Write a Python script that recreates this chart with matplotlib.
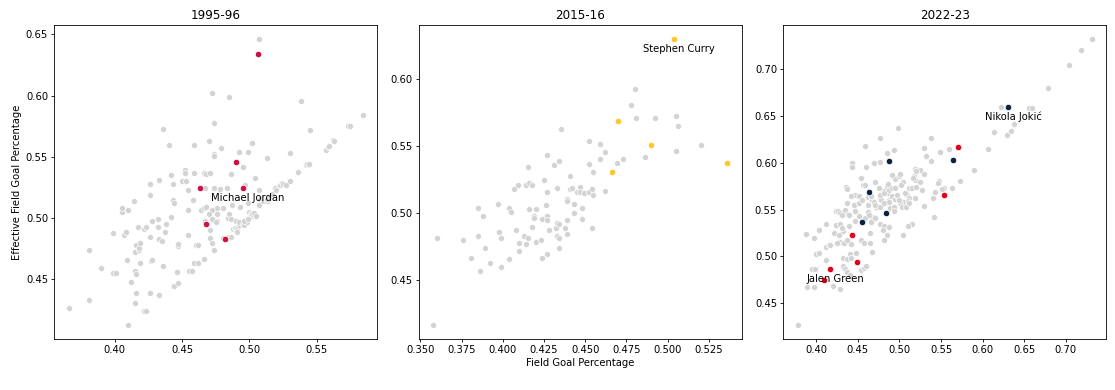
import numpy as np
import matplotlib
matplotlib.use("Agg")
import matplotlib.pyplot as plt

# ---------------- data ----------------
seasons = ["1995-96", "2015-16", "2022-23"]

gray_9596 = [(0.366,0.427),(0.381,0.474),(0.381,0.433),(0.390,0.459),(0.399,0.488),(0.399,0.455),(0.401,0.455),(0.405,0.505),(0.405,0.508),(0.407,0.486),(0.408,0.489),(0.410,0.507),(0.410,0.413),(0.409,0.466),(0.412,0.448),(0.414,0.514),(0.415,0.472),(0.415,0.457),(0.416,0.478),(0.416,0.454),(0.416,0.439),(0.415,0.431),(0.417,0.493),(0.418,0.474),(0.418,0.476),(0.419,0.463),(0.419,0.480),(0.422,0.491),(0.423,0.493),(0.422,0.424),(0.423,0.424),(0.426,0.528),(0.426,0.519),(0.426,0.485),(0.426,0.439),(0.427,0.465),(0.428,0.466),(0.428,0.498),(0.432,0.499),(0.432,0.493),(0.433,0.437),(0.433,0.531),(0.433,0.483),(0.435,0.481),(0.436,0.461),(0.436,0.573),(0.437,0.489),(0.438,0.495),(0.440,0.560),(0.442,0.535),(0.442,0.501),(0.443,0.445),(0.444,0.445),(0.443,0.528),(0.443,0.515),(0.444,0.512),(0.446,0.456),(0.447,0.477),(0.447,0.479),(0.447,0.447),(0.450,0.530),(0.452,0.539),(0.452,0.537),(0.453,0.530),(0.454,0.523),(0.454,0.507),(0.454,0.486),(0.455,0.457),(0.457,0.457),(0.458,0.515),(0.459,0.560),(0.459,0.463),(0.459,0.537),(0.460,0.478),(0.462,0.463),(0.462,0.478),(0.464,0.507),(0.466,0.508),(0.466,0.467),(0.466,0.537),(0.467,0.525),(0.468,0.536),(0.468,0.509),(0.470,0.563),(0.471,0.537),(0.471,0.490),(0.471,0.484),(0.472,0.480),(0.472,0.602),(0.474,0.552),(0.474,0.551),(0.474,0.525),(0.474,0.474),(0.474,0.578),(0.476,0.498),(0.476,0.508),(0.476,0.503),(0.478,0.524),(0.479,0.557),(0.480,0.508),(0.480,0.484),(0.483,0.525),(0.484,0.500),(0.484,0.485),(0.485,0.503),(0.485,0.599),(0.486,0.536),(0.486,0.499),(0.487,0.511),(0.486,0.485),(0.488,0.491),(0.489,0.492),(0.490,0.490),(0.491,0.491),(0.492,0.494),(0.491,0.489),(0.490,0.498),(0.492,0.497),(0.492,0.554),(0.493,0.509),(0.495,0.495),(0.495,0.542),(0.496,0.494),(0.497,0.527),(0.498,0.497),(0.499,0.554),(0.499,0.512),(0.500,0.505),(0.501,0.504),(0.501,0.502),(0.502,0.503),(0.503,0.504),(0.502,0.561),(0.504,0.533),(0.505,0.502),(0.507,0.646),(0.507,0.523),(0.507,0.511),(0.508,0.516),(0.510,0.514),(0.513,0.549),(0.513,0.514),(0.513,0.516),(0.515,0.518),(0.517,0.520),(0.519,0.524),(0.519,0.525),(0.520,0.523),(0.523,0.527),(0.524,0.529),(0.525,0.528),(0.527,0.527),(0.530,0.553),(0.530,0.530),(0.536,0.538),(0.538,0.596),(0.542,0.543),(0.543,0.544),(0.544,0.544),(0.545,0.572),(0.557,0.556),(0.558,0.558),(0.559,0.559),(0.562,0.564),(0.563,0.563),(0.573,0.575),(0.575,0.575),(0.584,0.584),(0.472,0.507),(0.470,0.503),(0.467,0.498),(0.472,0.499),(0.475,0.497),(0.496,0.498),(0.499,0.499)]
team_9596 = [(0.506,0.634),(0.490,0.546),(0.463,0.525),(0.495,0.525),(0.468,0.495),(0.482,0.483)]

gray_1516 = [(0.358,0.417),(0.360,0.482),(0.376,0.480),(0.381,0.467),(0.385,0.504),(0.385,0.483),(0.386,0.457),(0.388,0.498),(0.389,0.474),(0.392,0.463),(0.397,0.507),(0.398,0.486),(0.399,0.482),(0.399,0.460),(0.404,0.504),(0.405,0.501),(0.404,0.466),(0.407,0.518),(0.408,0.488),(0.409,0.521),(0.410,0.478),(0.410,0.472),(0.414,0.521),(0.415,0.535),(0.416,0.523),(0.418,0.521),(0.416,0.503),(0.413,0.483),(0.415,0.482),(0.414,0.477),(0.418,0.490),(0.419,0.498),(0.419,0.497),(0.420,0.503),(0.420,0.479),(0.423,0.480),(0.424,0.467),(0.425,0.525),(0.426,0.506),(0.424,0.496),(0.427,0.516),(0.427,0.544),(0.427,0.498),(0.427,0.495),(0.427,0.470),(0.428,0.488),(0.431,0.536),(0.432,0.489),(0.433,0.519),(0.433,0.493),(0.433,0.483),(0.434,0.539),(0.434,0.482),(0.434,0.492),(0.434,0.474),(0.435,0.563),(0.438,0.489),(0.439,0.511),(0.439,0.509),(0.439,0.495),(0.439,0.485),(0.441,0.528),(0.441,0.518),(0.442,0.519),(0.443,0.500),(0.443,0.507),(0.445,0.516),(0.447,0.520),(0.447,0.516),(0.448,0.504),(0.448,0.496),(0.449,0.515),(0.452,0.554),(0.452,0.537),(0.452,0.516),(0.454,0.518),(0.454,0.489),(0.455,0.531),(0.455,0.514),(0.459,0.552),(0.459,0.541),(0.462,0.546),(0.462,0.517),(0.469,0.538),(0.473,0.541),(0.478,0.581),(0.480,0.593),(0.481,0.571),(0.486,0.542),(0.492,0.571),(0.505,0.573),(0.506,0.565),(0.505,0.547),(0.520,0.551)]
team_1516 = [(0.470,0.569),(0.490,0.551),(0.466,0.531),(0.536,0.538),(0.504,0.630)]

gray_2223 = [(0.378,0.427),(0.388,0.524),(0.397,0.520),(0.403,0.528),(0.412,0.535),(0.400,0.503),(0.403,0.504),(0.412,0.510),(0.415,0.512),(0.417,0.512),(0.412,0.496),(0.395,0.487),(0.398,0.487),(0.389,0.467),(0.397,0.467),(0.420,0.468),(0.428,0.465),(0.424,0.549),(0.426,0.548),(0.429,0.546),(0.434,0.550),(0.438,0.545),(0.436,0.574),(0.437,0.572),(0.443,0.600),(0.443,0.595),(0.458,0.618),(0.477,0.627),(0.469,0.600),(0.485,0.611),(0.494,0.614),(0.498,0.637),(0.460,0.596),(0.454,0.584),(0.471,0.580),(0.456,0.576),(0.458,0.576),(0.446,0.566),(0.442,0.565),(0.451,0.564),(0.462,0.563),(0.467,0.560),(0.462,0.555),(0.469,0.558),(0.476,0.562),(0.478,0.560),(0.485,0.574),(0.482,0.570),(0.486,0.568),(0.487,0.560),(0.472,0.553),(0.470,0.555),(0.491,0.565),(0.495,0.561),(0.497,0.564),(0.495,0.583),(0.500,0.586),(0.501,0.588),(0.504,0.580),(0.491,0.587),(0.512,0.573),(0.509,0.566),(0.511,0.562),(0.505,0.558),(0.501,0.557),(0.519,0.593),(0.518,0.586),(0.525,0.592),(0.530,0.588),(0.519,0.582),(0.530,0.554),(0.540,0.562),(0.541,0.542),(0.548,0.581),(0.546,0.578),(0.543,0.569),(0.553,0.573),(0.563,0.573),(0.573,0.581),(0.532,0.607),(0.538,0.602),(0.530,0.616),(0.538,0.626),(0.549,0.612),(0.559,0.615),(0.589,0.592),(0.607,0.615),(0.614,0.633),(0.629,0.630),(0.634,0.634),(0.638,0.642),(0.622,0.660),(0.656,0.659),(0.659,0.659),(0.679,0.680),(0.704,0.705),(0.718,0.721),(0.731,0.732),(0.515,0.535),(0.510,0.532),(0.504,0.523),(0.467,0.542),(0.462,0.547),(0.447,0.538),(0.439,0.532),(0.432,0.527),(0.424,0.534),(0.429,0.515),(0.433,0.514),(0.439,0.515),(0.442,0.513),(0.454,0.518),(0.465,0.514),(0.467,0.505),(0.441,0.503),(0.448,0.504),(0.432,0.498),(0.437,0.497),(0.442,0.498),(0.432,0.490),(0.435,0.487),(0.437,0.483),(0.454,0.485),(0.457,0.488),(0.460,0.490),(0.477,0.601),(0.475,0.573),(0.477,0.566),(0.481,0.568),(0.487,0.571),(0.491,0.573),(0.497,0.566),(0.437,0.557),(0.445,0.555),(0.451,0.557),(0.455,0.560),(0.466,0.564),(0.477,0.553),(0.481,0.557),(0.489,0.552),(0.493,0.550),(0.431,0.544),(0.439,0.544),(0.447,0.548),(0.451,0.543),(0.459,0.541),(0.463,0.544),(0.466,0.537),(0.471,0.541),(0.477,0.535),(0.481,0.532),(0.429,0.535),(0.431,0.530),(0.421,0.525),(0.427,0.523),(0.437,0.518),(0.457,0.514),(0.465,0.525),(0.425,0.514),(0.441,0.480),(0.551,0.572),(0.520,0.591),(0.516,0.584),(0.525,0.580),(0.515,0.573),(0.520,0.574),(0.527,0.571),(0.519,0.562),(0.495,0.573),(0.502,0.576),(0.507,0.568),(0.486,0.577),(0.499,0.560),(0.503,0.553),(0.510,0.559),(0.508,0.553),(0.512,0.557),(0.494,0.553),(0.493,0.548),(0.487,0.558),(0.487,0.531),(0.480,0.528),(0.485,0.523),(0.481,0.518)]
nuggets_2223 = [(0.564,0.603),(0.488,0.602),(0.463,0.569),(0.484,0.546),(0.455,0.537),(0.631,0.660)]
rockets_2223 = [(0.570,0.617),(0.553,0.566),(0.443,0.523),(0.449,0.494),(0.409,0.475),(0.417,0.486)]

labels = {
    "1995-96": [("Michael Jordan", 0.495, 0.525)],
    "2015-16": [("Stephen Curry", 0.504, 0.630)],
    "2022-23": [("Nikola Jokić", 0.631, 0.660), ("Jalen Green", 0.417, 0.486)],
}

GRAY = "#d3d3d3"
BULLS = "#CE1141"
WARRIORS = "#FFC72C"
NUGGETS = "#0E2240"
ROCKETS = "#E4001B"

highlights = {
    "1995-96": [(team_9596, BULLS)],
    "2015-16": [(team_1516, WARRIORS)],
    "2022-23": [(rockets_2223, ROCKETS), (nuggets_2223, NUGGETS)],
}
grays = {"1995-96": gray_9596, "2015-16": gray_1516, "2022-23": gray_2223}

FS = 7.2
fig, axes = plt.subplots(1, 3, figsize=(11.15, 3.9), dpi=100)
fig.subplots_adjust(left=0.0487, right=0.9922, top=0.9359, bottom=0.1308, wspace=0.1285)

for ax, season in zip(axes, seasons):
    g = np.array(grays[season])
    ax.scatter(g[:, 0], g[:, 1], s=19, color=GRAY, edgecolors="white", linewidths=0.5, zorder=2)
    for pts, col in highlights[season]:
        p = np.array(pts)
        ax.scatter(p[:, 0], p[:, 1], s=21, color=col, edgecolors="white", linewidths=0.5, zorder=3)
    for name, x, y in labels[season]:
        ax.annotate(name, (x, y), xytext=(5, -10), textcoords="offset pixels",
                    ha="center", va="center", fontsize=FS, zorder=4)
    ax.set_title(season, fontsize=8.6, pad=4)
    ax.tick_params(labelsize=FS, length=2.5, width=0.6, pad=2)
    for sp in ax.spines.values():
        sp.set_linewidth(0.6)

axes[0].set_ylabel("Effective Field Goal Percentage", fontsize=FS, labelpad=3)
axes[1].set_xlabel("Field Goal Percentage", fontsize=FS, labelpad=2)

fig.savefig("out.png", dpi=100)
